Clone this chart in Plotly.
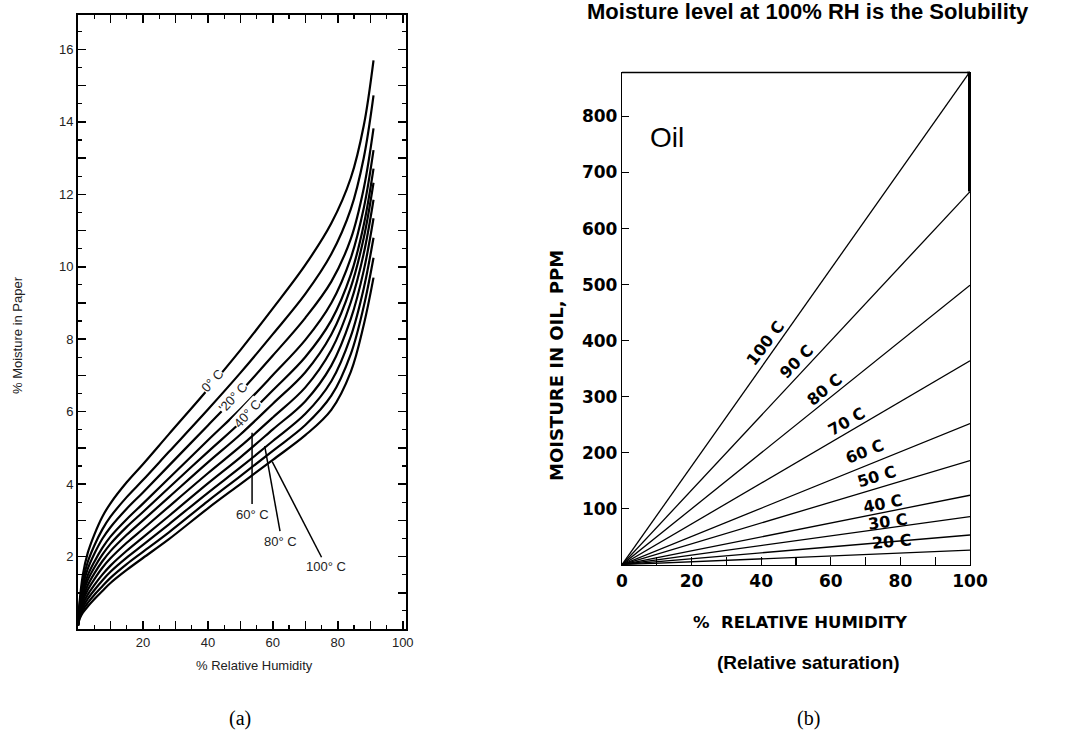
import plotly.graph_objects as go

W, H = 1084, 738

# ---------------- (a) moisture in paper ----------------
RH_PAPER = [0, 0.5, 1.5, 3, 5, 7.5, 10, 15, 20, 28, 40, 50, 60, 70, 78, 84, 88, 91]
PAPER_TEMPS = [0, 10, 20, 30, 40, 50, 60, 70, 80, 90, 100]
paper_0C = [0.1, 0.75, 1.50, 2.10, 2.60, 3.10, 3.47, 4.05, 4.55, 5.38, 6.62, 7.70, 8.85, 10.05, 11.20, 12.45, 13.90, 15.70]
paper_10C = [0.1, 0.67, 1.32, 1.85, 2.30, 2.75, 3.10, 3.64, 4.11, 4.89, 6.06, 7.07, 8.14, 9.25, 10.35, 11.59, 13.01, 14.73]
paper_20C = [0.1, 0.61, 1.19, 1.66, 2.07, 2.49, 2.81, 3.32, 3.77, 4.51, 5.62, 6.55, 7.55, 8.59, 9.59, 10.77, 12.17, 13.82]
paper_30C = [0.1, 0.55, 1.06, 1.48, 1.85, 2.24, 2.55, 3.03, 3.46, 4.16, 5.21, 6.07, 7.01, 7.98, 9.00, 10.24, 11.62, 13.22]
paper_40C = [0.1, 0.51, 0.96, 1.35, 1.69, 2.05, 2.35, 2.82, 3.23, 3.90, 4.89, 5.70, 6.59, 7.51, 8.52, 9.78, 11.16, 12.71]
paper_50C = [0.1, 0.47, 0.87, 1.21, 1.53, 1.87, 2.15, 2.60, 3.00, 3.64, 4.60, 5.37, 6.22, 7.09, 8.13, 9.43, 10.80, 12.32]
paper_60C = [0.1, 0.43, 0.78, 1.08, 1.37, 1.69, 1.95, 2.38, 2.76, 3.38, 4.30, 5.04, 5.84, 6.67, 7.70, 9.02, 10.37, 11.85]
paper_70C = [0.1, 0.38, 0.68, 0.95, 1.21, 1.50, 1.75, 2.16, 2.53, 3.12, 4.02, 4.74, 5.51, 6.29, 7.27, 8.56, 9.90, 11.34]
paper_80C = [0.1, 0.35, 0.60, 0.83, 1.07, 1.34, 1.58, 1.97, 2.32, 2.89, 3.76, 4.46, 5.19, 5.94, 6.84, 8.08, 9.41, 10.80]
paper_90C = [0.1, 0.31, 0.52, 0.72, 0.94, 1.18, 1.41, 1.79, 2.13, 2.67, 3.53, 4.22, 4.92, 5.63, 6.44, 7.59, 8.91, 10.25]
paper_100C = [0.1, 0.28, 0.45, 0.62, 0.82, 1.05, 1.27, 1.63, 1.96, 2.48, 3.33, 4.00, 4.67, 5.35, 6.05, 7.10, 8.40, 9.70]
PAPER_SERIES = [paper_0C, paper_10C, paper_20C, paper_30C, paper_40C, paper_50C,
                paper_60C, paper_70C, paper_80C, paper_90C, paper_100C]

PAPER_X_TICKS = [10, 20, 30, 40, 50, 60, 70, 80, 90, 100]
PAPER_X_TEXT = ["", "20", "", "40", "", "60", "", "80", "", "100"]
PAPER_Y_TICKS = list(range(1, 17))
PAPER_Y_TEXT = [str(v) if v % 2 == 0 else "" for v in PAPER_Y_TICKS]

# ---------------- (b) moisture in oil ----------------
OIL_RH = [0, 100]
OIL_TEMPS = [10, 20, 30, 40, 50, 60, 70, 80, 90, 100]
OIL_PPM_AT_100 = [26, 53, 86, 124, 186, 252, 364, 499, 666, 880]
OIL_X_TICKS = [0, 20, 40, 60, 80, 100]
OIL_Y_TICKS = [100, 200, 300, 400, 500, 600, 700, 800]


def px_x(p):
    return p / W


def px_y(p):
    return 1 - p / H


fig = go.Figure()

for t, ys in zip(PAPER_TEMPS, PAPER_SERIES):
    fig.add_trace(go.Scatter(x=RH_PAPER, y=ys, mode="lines", xaxis="x", yaxis="y",
                             line=dict(color="black", width=2.2, shape="spline", smoothing=1.0),
                             name=f"{t}° C", showlegend=False, hoverinfo="skip"))

for t, v in zip(OIL_TEMPS, OIL_PPM_AT_100):
    fig.add_trace(go.Scatter(x=OIL_RH, y=[0, v], mode="lines", xaxis="x2", yaxis="y2",
                             line=dict(color="black", width=1.3),
                             name=f"{t} C", showlegend=False, hoverinfo="skip"))

fig.add_trace(go.Scatter(x=[OIL_RH[-1]], y=[OIL_PPM_AT_100[-1]], mode="markers", xaxis="x2", yaxis="y2",
                         marker=dict(color="black", size=6), showlegend=False, hoverinfo="skip"))

LEFT_FAMILY = "Liberation Sans, Arial"
left_font = dict(family=LEFT_FAMILY, size=13, color="#222")
right_font = dict(family="DejaVu Sans", size=17, color="black", weight="bold")

xa_dom = [px_x(78), px_x(406)]
ya_dom = [px_y(629), px_y(15)]
xb_dom = [px_x(622), px_x(970)]
yb_dom = [px_y(564.7), px_y(71.7)]

fig.update_layout(
    width=W, height=H, margin=dict(l=0, r=0, t=0, b=0, autoexpand=False),
    paper_bgcolor="white", plot_bgcolor="white", showlegend=False,
    xaxis=dict(domain=xa_dom, range=[0, 101], anchor="y", showgrid=False, zeroline=False,
               showline=True, linecolor="black", linewidth=2, mirror="ticks",
               ticks="inside", ticklen=8, tickwidth=1.5, tickcolor="black",
               tickvals=PAPER_X_TICKS, ticktext=PAPER_X_TEXT, tickfont=left_font,
               minor=dict(dtick=5, ticks="inside", ticklen=4, tickwidth=1.2, tickcolor="black")),
    yaxis=dict(domain=ya_dom, range=[0, 16.95], anchor="x", showgrid=False, zeroline=False,
               showline=True, linecolor="black", linewidth=2, mirror="ticks",
               ticks="inside", ticklen=8, tickwidth=1.5, tickcolor="black",
               tickvals=PAPER_Y_TICKS, ticktext=PAPER_Y_TEXT, tickfont=left_font,
               minor=dict(dtick=0.5, ticks="inside", ticklen=4, tickwidth=1.2, tickcolor="black")),
    xaxis3=dict(overlaying="x", anchor="y", range=[0, 101], showgrid=False, zeroline=False,
                showline=False, mirror="ticks", ticks="inside", ticklen=13, tickwidth=1.8,
                tickcolor="black", tickvals=[20, 40, 60, 80, 100], showticklabels=False),
    yaxis3=dict(overlaying="y", anchor="x", range=[0, 16.95], showgrid=False, zeroline=False,
                showline=False, mirror="ticks", ticks="inside", ticklen=13, tickwidth=1.8,
                tickcolor="black", tickvals=[2, 4, 6, 8, 10, 12, 14, 16], showticklabels=False),
    xaxis2=dict(domain=xb_dom, range=[0, 100], anchor="y2", showgrid=False, zeroline=False,
                showline=True, linecolor="black", linewidth=1.5,
                ticks="inside", ticklen=8, tickwidth=1.3, tickcolor="black",
                tickvals=OIL_X_TICKS, tickfont=right_font,
                minor=dict(dtick=10, ticks="inside", ticklen=8, tickwidth=1.3, tickcolor="black")),
    yaxis2=dict(domain=yb_dom, range=[0, 880], anchor="x2", showgrid=False, zeroline=False,
                showline=True, linecolor="black", linewidth=1.2, mirror=True,
                ticks="inside", ticklen=7, tickwidth=1.3, tickcolor="black",
                tickvals=OIL_Y_TICKS, tickfont=right_font),
)

# thick top line and solubility segment on the right border
fig.add_shape(type="line", xref="x2", yref="y2", x0=-1.7, x1=OIL_RH[-1],
              y0=OIL_PPM_AT_100[-1], y1=OIL_PPM_AT_100[-1], line=dict(color="black", width=3))
fig.add_shape(type="line", xref="x2", yref="y2", x0=OIL_RH[-1], x1=OIL_RH[-1],
              y0=OIL_PPM_AT_100[-2], y1=OIL_PPM_AT_100[-1], line=dict(color="black", width=4))

ann = []


def text_ann(text, x, y, xref="paper", yref="paper", font=None, angle=0, bg=None):
    d = dict(text=text, x=x, y=y, xref=xref, yref=yref, showarrow=False,
             xanchor="center", yanchor="middle", textangle=angle, font=font)
    if bg:
        d["bgcolor"] = bg
        d["borderpad"] = 0
    return d


# panel (a) texts
ann.append(text_ann("% Moisture in Paper", px_x(17), px_y(335), font=left_font, angle=-90))
ann.append(text_ann("% Relative Humidity", px_x(254), px_y(665), font=left_font))
for txt, x, y in [("0° C", 41.5, 6.85), ("'20° C", 47.8, 6.38), ("40° C", 52.2, 5.95)]:
    ann.append(text_ann(txt, x, y, "x", "y", font=left_font, angle=-47, bg="white"))
for x0, y0, x1, y1 in [(53.6, 5.42, 53.6, 3.45), (57.5, 5.05, 62.2, 2.70), (59.8, 4.62, 75.0, 1.98)]:
    fig.add_shape(type="line", xref="x", yref="y", x0=x0, y0=y0, x1=x1, y1=y1,
                  line=dict(color="black", width=1.5))
ann.append(text_ann("60° C", 53.6, 3.15, "x", "y", font=left_font))
ann.append(text_ann("80° C", 62.5, 2.42, "x", "y", font=left_font))
ann.append(text_ann("100° C", 76.5, 1.72, "x", "y", font=left_font))

# panel (b) texts
ann.append(text_ann("<b>Moisture level at 100% RH is the Solubility</b>", px_x(808), px_y(12),
                    font=dict(family=LEFT_FAMILY, size=22, color="black")))
ann.append(dict(text="", x=100, y=897, xref="x2", yref="y2", showarrow=True, ax=0, ay=-34,
                arrowhead=2, arrowsize=1.1, arrowwidth=2, arrowcolor="black"))
ann.append(text_ann("Oil", 12.9, 763, "x2", "y2", font=dict(family=LEFT_FAMILY, size=28, color="black")))
ann.append(text_ann("MOISTURE IN OIL, PPM", px_x(557), px_y(366),
                    font=dict(family="DejaVu Sans", size=18, color="black", weight="bold"), angle=-90))
ann.append(text_ann("%  RELATIVE HUMIDITY", px_x(800), px_y(622),
                    font=dict(family="DejaVu Sans", size=16.5, color="black", weight="bold")))
ann.append(text_ann("<b>(Relative saturation)</b>", px_x(808), px_y(662),
                    font=dict(family=LEFT_FAMILY, size=19, color="black")))

OIL_LABELS = [("100 C", 41.1, 395, -53), ("90 C", 50.2, 362, -45), ("80 C", 58.3, 312, -39),
              ("70 C", 64.6, 255, -30), ("60 C", 69.8, 202, -22), ("50 C", 73.2, 157, -17),
              ("40 C", 75.1, 110, -11), ("30 C", 76.5, 77, -8), ("20 C", 77.5, 41, -5)]
for txt, x, y, ang in OIL_LABELS:
    ann.append(text_ann(txt, x, y, "x2", "y2",
                        font=dict(family="DejaVu Sans", size=16, color="black", weight="bold"), angle=ang))

serif = dict(family="Liberation Serif, Times New Roman", size=20, color="black")
ann.append(text_ann("(a)", px_x(240), px_y(718), font=serif))
ann.append(text_ann("(b)", px_x(808), px_y(718), font=serif))

fig.update_layout(annotations=ann)
fig.write_html("out.html",
               config=dict(displayModeBar=False, staticPlot=True),
               post_script="document.body.style.margin='0px';document.body.style.overflow='hidden';")
